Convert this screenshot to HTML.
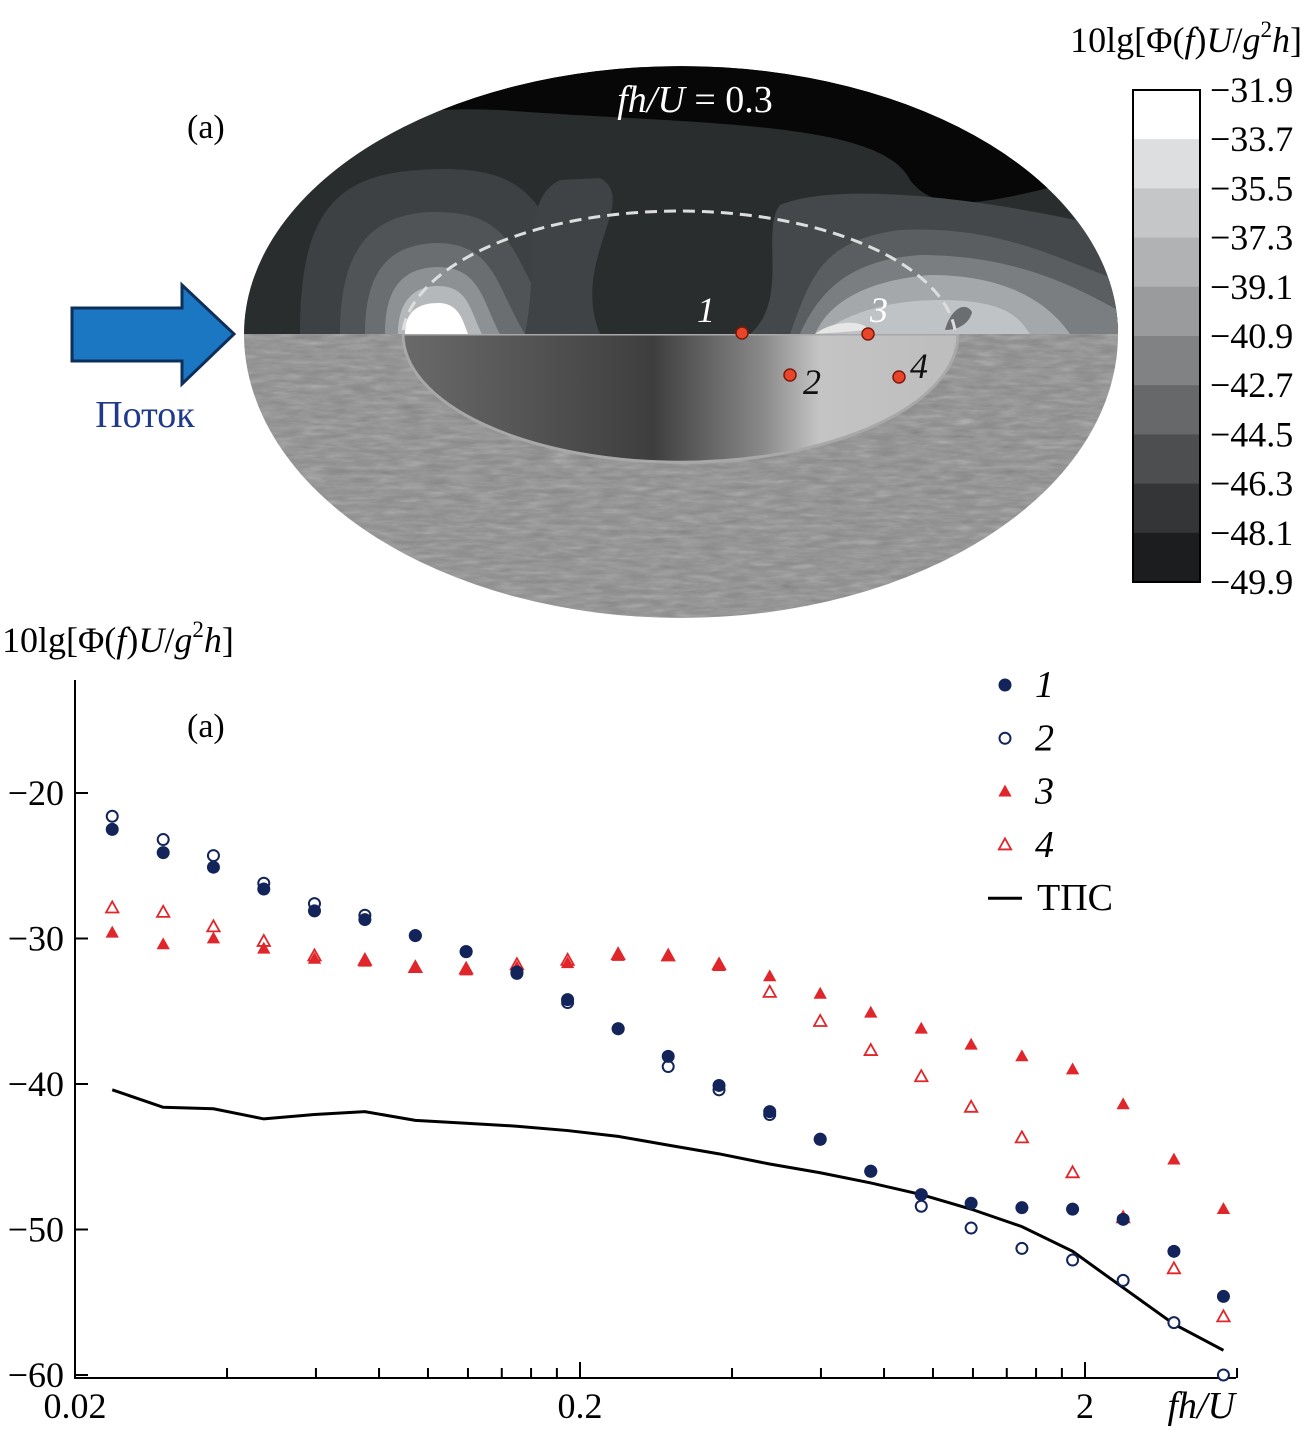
<!DOCTYPE html>
<html><head><meta charset="utf-8"><style>
html,body{margin:0;padding:0;background:#fff}
svg{display:block;font-family:"Liberation Serif",serif}
</style></head><body>
<svg id="fig" width="1310" height="1430" viewBox="0 0 1310 1430" xmlns="http://www.w3.org/2000/svg">
<defs>
  <clipPath id="topHalf"><path d="M244,334 A437,268 0 0 1 1118,334 Z"/></clipPath>
  <clipPath id="botHalf"><path d="M244,334 A437,284 0 0 0 1118,334 Z"/></clipPath>
  <filter id="noise"><feTurbulence type="fractalNoise" baseFrequency="0.04 0.2" numOctaves="3" seed="4"/><feColorMatrix type="saturate" values="0"/><feComponentTransfer><feFuncA type="linear" slope="0.5"/></feComponentTransfer></filter>
  <linearGradient id="innerGrad" x1="0" x2="1" y1="0" y2="0">
    <stop offset="0" stop-color="#6a6a6a"/><stop offset="0.45" stop-color="#3e3e3e"/><stop offset="0.65" stop-color="#8a8a8a"/><stop offset="0.75" stop-color="#c4c4c4"/><stop offset="1" stop-color="#bdbdbd"/>
  </linearGradient>
</defs>

<g>
  <g clip-path="url(#topHalf)">
    <rect x="240" y="60" width="880" height="280" fill="#2a2d2e"/>
    <path d="M240,60 H1120 V170 C1000,200 940,220 910,180 C880,120 700,125 500,110 C380,105 300,130 240,150Z" fill="#070707"/>
    <path d="M300,334 C300,220 330,175 420,170 C560,160 540,230 600,334Z" fill="#3d4143"/>
    <path d="M340,334 C340,250 370,215 430,212 C520,210 510,260 560,334Z" fill="#505456"/>
    <path d="M365,334 C365,270 390,245 435,243 C495,243 495,285 525,334Z" fill="#6a6e70"/>
    <path d="M385,334 C385,285 405,268 437,267 C480,267 482,300 500,334Z" fill="#8d9193"/>
    <path d="M398,334 C398,300 415,286 438,286 C468,286 470,310 482,334Z" fill="#b5b8ba"/>
    <path d="M405,334 C405,310 420,303 438,303 C458,303 462,318 468,334Z" fill="#ffffff"/>
    <path d="M525,334 C540,260 520,200 560,180 L600,178 C640,200 570,260 600,334Z" fill="#3f4345"/>
    <path d="M750,334 C790,300 760,230 780,205 C840,180 1000,200 1118,230 V334Z" fill="#44484a"/>
    <path d="M790,334 C810,280 820,240 900,230 C1000,225 1060,260 1118,280 V334Z" fill="#5a5e60"/>
    <path d="M800,334 C820,290 850,260 920,255 C1020,255 1080,290 1118,310 V334Z" fill="#7a7e80"/>
    <path d="M815,334 C830,300 870,280 930,275 C1010,275 1050,305 1070,334Z" fill="#a4a8aa"/>
    <path d="M820,334 C840,318 880,300 940,300 C1010,300 1020,320 1030,334Z" fill="#c0c3c5"/>
    <path d="M815,334 C830,322 860,318 870,330Z" fill="#e6e6e6"/>
    <path d="M945,330 C950,310 965,300 972,312 C970,322 960,330 945,330Z" fill="#6a6e70"/>
  </g>
  <g clip-path="url(#botHalf)">
    <rect x="240" y="330" width="880" height="300" fill="#8a8a8a"/>
    <rect x="240" y="330" width="880" height="300" filter="url(#noise)"/>
    <path d="M403,334 A277,128 0 0 0 958,334Z" fill="url(#innerGrad)" stroke="#a8a8a8" stroke-width="3"/>
  </g>
  <path d="M403,330 A277,130 0 0 1 955,330" fill="none" stroke="#ddd" stroke-width="3" stroke-dasharray="12,7"/>
  <text x="695" y="112" fill="#fff" font-size="38" text-anchor="middle"><tspan font-style="italic">fh/U</tspan> = 0.3</text>
  <g fill="#e8452a" stroke="#7a1a0a" stroke-width="1.5">
    <circle cx="742" cy="333" r="6"/>
    <circle cx="868" cy="334" r="6"/>
    <circle cx="790" cy="375" r="6"/>
    <circle cx="899" cy="377" r="6"/>
  </g>
  <g font-size="36" font-style="italic">
    <text x="697" y="322" fill="#fff">1</text>
    <text x="870" y="322" fill="#fff">3</text>
    <text x="803" y="394" fill="#111">2</text>
    <text x="910" y="378" fill="#111">4</text>
  </g>
</g>
<text x="187" y="138" font-size="34">(a)</text>
<path d="M72,308 H182 V285 L234,334 L182,384 V361 H72Z" fill="#1b77c2" stroke="#0e2f5a" stroke-width="3"/>
<text x="145" y="427" font-size="38" fill="#1f3a8a" text-anchor="middle">Поток</text>

<g id="cbar"></g>
<text x="1302" y="52" font-size="36" text-anchor="end">10lg[Φ(<tspan font-style="italic">f</tspan>)<tspan font-style="italic">U</tspan>/<tspan font-style="italic">g</tspan><tspan font-size="23" dy="-15">2</tspan><tspan font-style="italic" dy="15">h</tspan>]</text>

<g id="chart"></g>
<text x="2" y="652" font-size="36">10lg[Φ(<tspan font-style="italic">f</tspan>)<tspan font-style="italic">U</tspan>/<tspan font-style="italic">g</tspan><tspan font-size="23" dy="-15">2</tspan><tspan font-style="italic" dy="15">h</tspan>]</text>
<text x="187" y="737" font-size="34">(a)</text>
<text x="1235" y="1418" font-size="38" font-style="italic" text-anchor="end">fh/U</text>
</svg>
<script>
const cbarLabels=["−31.9","−33.7","−35.5","−37.3","−39.1","−40.9","−42.7","−44.5","−46.3","−48.1","−49.9"];
const cbarShades=["#ffffff","#dcdedf","#c4c6c8","#b0b2b4","#999b9d","#808284","#66686a","#4c4e50","#333537","#1c1d1e","#000000"];
const freqs=[0.0237,0.0299,0.0376,0.0473,0.0596,0.075,0.0944,0.119,0.15,0.189,0.238,0.299,0.377,0.475,0.598,0.753,0.948,1.19,1.5,1.89,2.38,3.0,3.76];
const s1=[-22.5,-24.1,-25.1,-26.6,-28.1,-28.7,-29.8,-30.9,-32.4,-34.2,-36.2,-38.1,-40.1,-41.9,-43.8,-46.0,-47.6,-48.2,-48.5,-48.6,-49.3,-51.5,-54.6];
const s2=[-21.6,-23.2,-24.3,-26.2,-27.6,-28.4,-29.8,-30.9,-32.3,-34.4,-36.2,-38.8,-40.4,-42.1,-43.8,-46.0,-48.4,-49.9,-51.3,-52.1,-53.5,-56.4,-60.0];
const s3=[-29.6,-30.4,-30.0,-30.7,-31.4,-31.6,-32.0,-32.2,-32.0,-31.7,-31.2,-31.2,-31.9,-32.6,-33.8,-35.1,-36.2,-37.3,-38.1,-39.0,-41.4,-45.2,-48.6];
const s4=[-27.9,-28.2,-29.2,-30.2,-31.2,-31.5,-32.0,-32.1,-31.8,-31.5,-31.1,-31.2,-31.8,-33.7,-35.7,-37.7,-39.5,-41.6,-43.7,-46.1,-49.2,-52.7,-56.0];
const tps=[-40.4,-41.6,-41.7,-42.4,-42.1,-41.9,-42.5,-42.7,-42.9,-43.2,-43.6,-44.2,-44.8,-45.5,-46.1,-46.8,-47.6,-48.6,-49.8,-51.5,-54.0,-56.5,-58.3];
const yTicks=[-20,-30,-40,-50,-60];
const xTicks=[0.02,0.2,2];
const xTickLabels=["0.02","0.2","2"];
const legendLabels=["1","2","3","4","ТПС"];

const NS="http://www.w3.org/2000/svg";
function mk(tag,attrs,parent){const e=document.createElementNS(NS,tag);for(const k in attrs)e.setAttribute(k,attrs[k]);parent.appendChild(e);return e;}
const cb=document.getElementById('cbar');
const cbTop=90,cbStep=49.2;
for(let i=0;i<10;i++){
  const r=mk('rect',{x:1133,y:cbTop+i*cbStep,width:67,height:cbStep+0.5,fill:cbarShades[i]},cb);
  
  
}
const cbo=mk('rect',{x:1133,y:cbTop,width:67,height:cbStep*10,fill:'none',stroke:'#000','stroke-width':2},cb);


cbarLabels.forEach((l,i)=>{
  const t=mk('text',{x:1210,y:cbTop+i*cbStep+12,'font-size':36},cb);t.textContent=l;
  
  
});
const g=document.getElementById('chart');
const X=v=>75+505*Math.log10(v/0.02);
const Y=v=>793+(-20-v)*14.55;
const ax=mk('path',{d:'M75,680 V1378 H1236',fill:'none',stroke:'#000','stroke-width':2},g);


yTicks.forEach(v=>{
  const l=mk('line',{x1:75,x2:88,y1:Y(v),y2:Y(v),stroke:'#000','stroke-width':2},g);
  
  
  const t=mk('text',{x:64,y:Y(v)+12,'font-size':36,'text-anchor':'end'},g);t.textContent=String(v).replace('-','−');
  
  
});
for(let d=0;d<3;d++)for(let m=1;m<10;m++){
  const v=0.02*Math.pow(10,d)*m; if(v>4)break;
  const major=m===1;
  const l=mk('line',{x1:X(v),x2:X(v),y1:1378,y2:major?1362:1368,stroke:'#000','stroke-width':2},g);
  
  
}
xTicks.forEach((v,i)=>{
  const t=mk('text',{x:X(v),y:1418,'font-size':36,'text-anchor':'middle'},g);t.textContent=xTickLabels[i];
  
  
});
const navy='#13245a',red='#e0262a';
const tp=mk('path',{d:freqs.map((f,i)=>(i?'L':'M')+X(f)+','+Y(tps[i])).join(' '),fill:'none',stroke:'#000','stroke-width':3},g);


function tri(cx,cy,s){return `M${cx},${cy-s} L${cx+s*0.95},${cy+s*0.7} L${cx-s*0.95},${cy+s*0.7}Z`;}
function marker(kind,cx,cy){
  if(kind===1)return mk('circle',{cx,cy,r:6.5,fill:navy},g);
  if(kind===2)return mk('circle',{cx,cy,r:5.5,fill:'#fff',stroke:navy,'stroke-width':2},g);
  if(kind===3)return mk('path',{d:tri(cx,cy,7),fill:red},g);
  return mk('path',{d:tri(cx,cy,6.5),fill:'#fff',stroke:red,'stroke-width':1.8},g);
}
[[s4,4],[s3,3],[s2,2],[s1,1]].forEach(([s,k])=>{
  s.forEach((v,i)=>{
    const m=marker(k,X(freqs[i]),Y(v));
    
    
  });
});
legendLabels.forEach((l,i)=>{
  const y=685+i*53.3;
  let m;
  if(i<4)m=marker(i+1,1005,y);
  else m=mk('line',{x1:988,x2:1022,y1:y,y2:y,stroke:'#000','stroke-width':3},g);
  
  
  const t=mk('text',{x:i<4?1035:1037,y:y+12,'font-size':38,'font-style':i<4?'italic':'normal'},g);t.textContent=l;
  
  
});
</script>
</body></html>
